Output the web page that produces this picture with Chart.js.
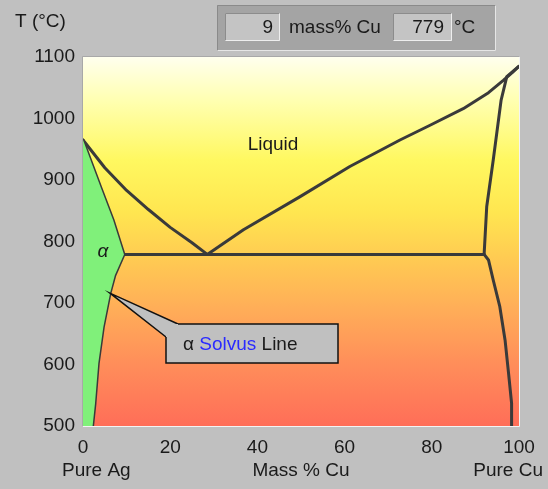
<!DOCTYPE html>
<html>
<head>
<meta charset="utf-8">
<script src="https://cdn.jsdelivr.net/npm/chart.js@4/dist/chart.umd.min.js"></script>
<style>
html,body{margin:0;padding:0;background:#c0c0c0;}
canvas{display:block;}
</style>
</head>
<body>
<canvas id="c" width="548" height="489"></canvas>
<script>
// ---- data (mass % Cu, temperature °C) ----
const xTickValues = [0, 20, 40, 60, 80, 100];
const yTickValues = [500, 600, 700, 800, 900, 1000, 1100];

const agLiquidusX = [0, 5, 10, 15, 20, 25, 28.5];
const agLiquidusT = [965, 920, 883, 852, 823, 798, 779];

const cuLiquidusX = [28.5, 36.8, 49.8, 61.2, 72.7, 79.6, 87.2, 93, 96.4, 98.5, 100];
const cuLiquidusT = [779, 819, 873, 922, 965, 989, 1016, 1042, 1062, 1075, 1085];

const agSolidusX = [0, 4, 6.9, 9.4];
const agSolidusT = [965, 889, 835, 779];

const agSolvusX = [9.4, 7.3, 6.2, 4.66, 3.5, 2.75, 2.2];
const agSolvusT = [779, 745, 716, 661, 602, 537, 500];

const cuSolidusX = [100, 97.2, 95.9, 94.1, 92.6, 92.0];
const cuSolidusT = [1085, 1068, 1030, 933, 857, 779];

const cuSolvusX = [92.0, 93.0, 94.1, 95.6, 96.8, 97.6, 98.3, 98.3];
const cuSolvusT = [779, 770, 737, 694, 640, 586, 537, 500];

const eutecticX = [9.4, 92.0];
const eutecticT = [779, 779];

const readoutComposition = '9';
const readoutTemperature = '779';

// ---- helpers ----
const pts = (xs, ts) => xs.map((x, i) => ({x: x, y: ts[i]}));
const alphaField = pts(
  [0].concat(agSolidusX, agSolvusX.slice(1), [0]),
  [agSolidusT[0]].concat(agSolidusT, agSolvusT.slice(1), [500])
);

const FONT = "'Liberation Sans', Arial, sans-serif";
const LINE = '#3a3a3a';

function lineDs(data) {
  return {data: data, showLine: true, borderColor: LINE, borderWidth: 3,
          pointRadius: 0, tension: 0, fill: false, borderJoinStyle: 'round', borderCapStyle: 'round'};
}

function bevel(ctx, x, y, w, h, fill, tl, br) {
  ctx.fillStyle = fill; ctx.fillRect(x, y, w, h);
  ctx.lineWidth = 1;
  ctx.strokeStyle = tl; ctx.beginPath();
  ctx.moveTo(x + 0.5, y + h - 0.5); ctx.lineTo(x + 0.5, y + 0.5); ctx.lineTo(x + w - 0.5, y + 0.5); ctx.stroke();
  ctx.strokeStyle = br; ctx.beginPath();
  ctx.moveTo(x + w - 0.5, y + 0.5); ctx.lineTo(x + w - 0.5, y + h - 0.5); ctx.lineTo(x + 0.5, y + h - 0.5); ctx.stroke();
}

const decor = {
  id: 'decor',
  beforeDraw(chart) {
    const ctx = chart.ctx, a = chart.chartArea;
    ctx.save();
    ctx.fillStyle = '#c0c0c0';
    ctx.fillRect(0, 0, chart.width, chart.height);
    const g = ctx.createLinearGradient(0, a.top, 0, a.bottom);
    g.addColorStop(0.00, '#ffffee');
    g.addColorStop(0.12, '#ffffb0');
    g.addColorStop(0.28, '#fff860');
    g.addColorStop(0.42, '#ffe650');
    g.addColorStop(0.54, '#ffcc52');
    g.addColorStop(0.68, '#ffae58');
    g.addColorStop(0.84, '#ff8c5a');
    g.addColorStop(1.00, '#ff6e58');
    ctx.fillStyle = g;
    ctx.fillRect(a.left, a.top, a.right - a.left, a.bottom - a.top);
    ctx.restore();
  },
  afterDraw(chart) {
    const ctx = chart.ctx, a = chart.chartArea;
    const xs = chart.scales.x, ys = chart.scales.y;
    ctx.save();
    // frame
    ctx.lineWidth = 1;
    ctx.strokeStyle = '#a8a8a8';
    ctx.beginPath(); ctx.moveTo(a.left - 0.5, a.bottom); ctx.lineTo(a.left - 0.5, a.top - 0.5); ctx.lineTo(a.right, a.top - 0.5); ctx.stroke();
    ctx.strokeStyle = '#f4f4f4';
    ctx.beginPath(); ctx.moveTo(a.right + 0.5, a.top); ctx.lineTo(a.right + 0.5, a.bottom + 0.5); ctx.lineTo(a.left, a.bottom + 0.5); ctx.stroke();

    ctx.fillStyle = '#1a1a1a';
    ctx.font = '19px ' + FONT;
    ctx.textBaseline = 'middle';
    // axis titles
    ctx.textAlign = 'left';
    ctx.fillText('T (°C)', 15, 22);
    ctx.fillText('Pure Ag', 62, 471);
    ctx.textAlign = 'center';
    ctx.fillText('Mass % Cu', (a.left + a.right) / 2, 471);
    ctx.textAlign = 'right';
    ctx.fillText('Pure Cu', 543, 471);

    // region labels
    ctx.textAlign = 'center';
    ctx.fillText('Liquid', 273, 145);
    ctx.font = 'italic 19px ' + FONT;
    ctx.fillText('α', 103, 252);

    // readout panel
    bevel(ctx, 217, 5, 279, 46, '#a4a4a4', '#8a8a8a', '#e6e6e6');
    bevel(ctx, 225, 13, 55, 28, '#c4c4c4', '#8c8c8c', '#eeeeee');
    bevel(ctx, 393, 13, 59, 28, '#c4c4c4', '#8c8c8c', '#eeeeee');
    ctx.fillStyle = '#1a1a1a';
    ctx.font = '19px ' + FONT;
    ctx.textAlign = 'right';
    ctx.fillText(readoutComposition, 273, 28);
    ctx.fillText(readoutTemperature, 444, 28);
    ctx.textAlign = 'left';
    ctx.fillText('mass% Cu', 289, 28);
    ctx.fillText('°C', 454, 28);

    // callout for alpha solvus
    const tipX = xs.getPixelForValue(agSolvusX[2]);
    const tipY = ys.getPixelForValue(agSolvusT[2]);
    const bx = 166, by = 324, bw = 172, bh = 39;
    ctx.fillStyle = '#c0c0c0';
    ctx.strokeStyle = '#111';
    ctx.lineWidth = 1.5;
    ctx.beginPath();
    ctx.moveTo(bx, by);
    ctx.lineTo(bx + 12, by);
    ctx.lineTo(tipX, tipY);
    ctx.lineTo(bx, by + 13);
    ctx.closePath();
    ctx.fill();
    ctx.beginPath();
    ctx.moveTo(bx + 12, by); ctx.lineTo(tipX, tipY); ctx.lineTo(bx, by + 13);
    ctx.stroke();
    ctx.fillRect(bx, by, bw, bh);
    ctx.beginPath();
    ctx.moveTo(bx + 12, by); ctx.lineTo(bx + bw, by); ctx.lineTo(bx + bw, by + bh); ctx.lineTo(bx, by + bh); ctx.lineTo(bx, by + 13);
    ctx.stroke();
    ctx.textAlign = 'left';
    let tx = 183;
    const ty = by + bh / 2 + 1;
    ctx.fillStyle = '#1a1a1a';
    ctx.fillText('α ', tx, ty); tx += ctx.measureText('α ').width;
    ctx.fillStyle = '#2a2aff';
    ctx.fillText('Solvus', tx, ty); tx += ctx.measureText('Solvus ').width;
    ctx.fillStyle = '#1a1a1a';
    ctx.fillText('Line', tx, ty);
    ctx.restore();
  }
};

Chart.defaults.font.family = FONT;
Chart.defaults.font.size = 19;
Chart.defaults.color = '#1a1a1a';

new Chart(document.getElementById('c'), {
  type: 'scatter',
  data: {
    datasets: [
      {data: alphaField, showLine: true, borderWidth: 0, borderColor: 'rgba(0,0,0,0)',
       backgroundColor: '#80f07a', fill: 'shape', pointRadius: 0, tension: 0},
      lineDs(pts(eutecticX, eutecticT)),
      lineDs(pts(agLiquidusX, agLiquidusT)),
      lineDs(pts(cuLiquidusX, cuLiquidusT)),
      lineDs(pts(agSolidusX, agSolidusT)),
      lineDs(pts(agSolvusX, agSolvusT)),
      lineDs(pts(cuSolidusX, cuSolidusT)),
      lineDs(pts(cuSolvusX, cuSolvusT))
    ]
  },
  options: {
    responsive: false,
    animation: false,
    devicePixelRatio: 1,
    layout: {padding: {left: 0, right: 29, top: 57, bottom: 0}},
    plugins: {legend: {display: false}, tooltip: {enabled: false}},
    scales: {
      x: {
        type: 'linear', min: 0, max: 100,
        grid: {display: false, drawTicks: false},
        border: {display: false},
        afterBuildTicks: s => { s.ticks = xTickValues.map(v => ({value: v})); },
        afterFit: s => { s.height = 63; },
        ticks: {padding: 10, maxRotation: 0, autoSkip: false, color: '#1a1a1a',
                callback: v => String(v)}
      },
      y: {
        type: 'linear', min: 500, max: 1100,
        grid: {display: false, drawTicks: false},
        border: {display: false},
        afterBuildTicks: s => { s.ticks = yTickValues.map(v => ({value: v})); },
        afterFit: s => { s.width = 83; },
        ticks: {padding: 8, autoSkip: false, color: '#1a1a1a',
                callback: v => String(v)}
      }
    }
  },
  plugins: [decor]
});
</script>
</body>
</html>
